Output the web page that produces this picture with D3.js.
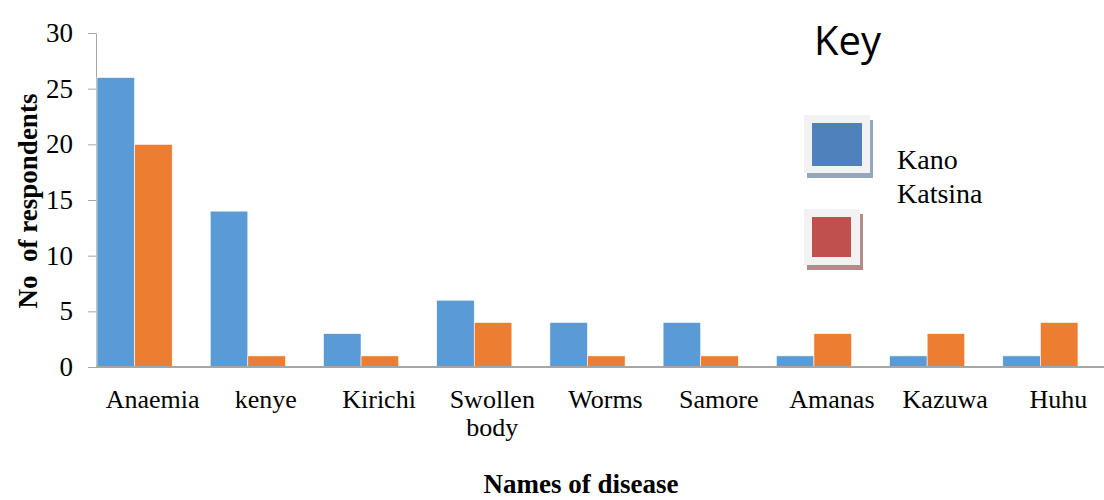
<!DOCTYPE html>
<html><head><meta charset="utf-8">
<script src="https://cdn.jsdelivr.net/npm/d3@7"></script>
<style>body{margin:0;background:#fff}</style>
</head><body>
<svg id="c" width="1104" height="500"></svg>
<script>
const categories = ["Anaemia","kenye","Kirichi","Swollen body","Worms","Samore","Amanas","Kazuwa","Huhu"];
const kano = [26,14,3,6,4,4,1,1,1];
const katsina = [20,1,1,4,1,1,3,3,4];
const yTicks = [0,5,10,15,20,25,30];
const seriesNames = ["Kano","Katsina"];

const svg = d3.select("#c");
const serif = "'Liberation Serif','Times New Roman',serif";
const x = d3.scaleBand().domain(categories).range([96, 1115]);
const y = d3.scaleLinear().domain([0,30]).range([367,33]);
const barW = 37.6;

// y axis
const yAxis = svg.append("g").attr("transform","translate(96,0)")
  .call(d3.axisLeft(y).tickValues(yTicks).tickSize(8).tickPadding(15));
yAxis.select(".domain").attr("stroke","#a6a6a6");
yAxis.selectAll(".tick line").attr("stroke","#a6a6a6");
yAxis.selectAll("text").attr("font-family",serif).attr("font-size",27).attr("fill","#000");

// bars
const data = categories.map((c,i)=>({c, v:[kano[i],katsina[i]]}));
const colors = ["#5b9bd5","#ed7d31"];
const g = svg.append("g");
data.forEach(d=>{
  d.v.forEach((v,j)=>{
    g.append("rect").attr("x", x(d.c)+1+j*barW).attr("y", y(v))
      .attr("width", barW).attr("height", y(0)-y(v))
      .attr("fill", colors[j]).attr("stroke","#fff").attr("stroke-width",0.6);
  });
});

// x axis line
svg.append("line").attr("x1",96).attr("x2",1104).attr("y1",y(0)).attr("y2",y(0))
  .attr("stroke","#a6a6a6").attr("stroke-width",2);

// category labels
categories.forEach(c=>{
  const cx = x(c)+x.bandwidth()/2;
  const words = c === "Swollen body" ? ["Swollen","body"] : [c];
  const t = svg.append("text").attr("x",cx).attr("y",408).attr("text-anchor","middle")
    .attr("font-family",serif).attr("font-size",26);
  words.forEach((w,k)=>t.append("tspan").attr("x",cx).attr("dy",k?28:0).text(w));
});

// axis titles
svg.append("text").attr("transform","translate(37,201) rotate(-90)").attr("text-anchor","middle")
  .attr("font-family",serif).attr("font-size",27).attr("font-weight","bold")
  .attr("xml:space","preserve").text("No  of respondents");
svg.append("text").attr("x",581).attr("y",493).attr("text-anchor","middle")
  .attr("font-family",serif).attr("font-size",27).attr("font-weight","bold").text("Names of disease");

// legend
svg.append("text").attr("x",814).attr("y",55).attr("font-family","'Open Sans',sans-serif")
  .attr("font-size",40).text("Key");
const legendBoxes = [
  {fx:804,fy:115,fw:66,fh:58, ix:812,iy:123,iw:50,ih:43, fill:"#4f81bd", shadow:"#95a7bb"},
  {fx:804,fy:209,fw:56,fh:56, ix:812,iy:217,iw:39,ih:40, fill:"#c0504d", shadow:"#b38b8b"}
];
legendBoxes.forEach(b=>{
  svg.append("rect").attr("x",b.fx+3).attr("y",b.fy+5).attr("width",b.fw).attr("height",b.fh).attr("fill",b.shadow);
  svg.append("rect").attr("x",b.fx).attr("y",b.fy).attr("width",b.fw).attr("height",b.fh).attr("fill","#f2f2f2");
  svg.append("rect").attr("x",b.ix).attr("y",b.iy).attr("width",b.iw).attr("height",b.ih).attr("fill",b.fill);
});
seriesNames.forEach((s,i)=>{
  svg.append("text").attr("x",897).attr("y",169+i*34).attr("font-family",serif).attr("font-size",28).text(s);
});
</script>
</body></html>
